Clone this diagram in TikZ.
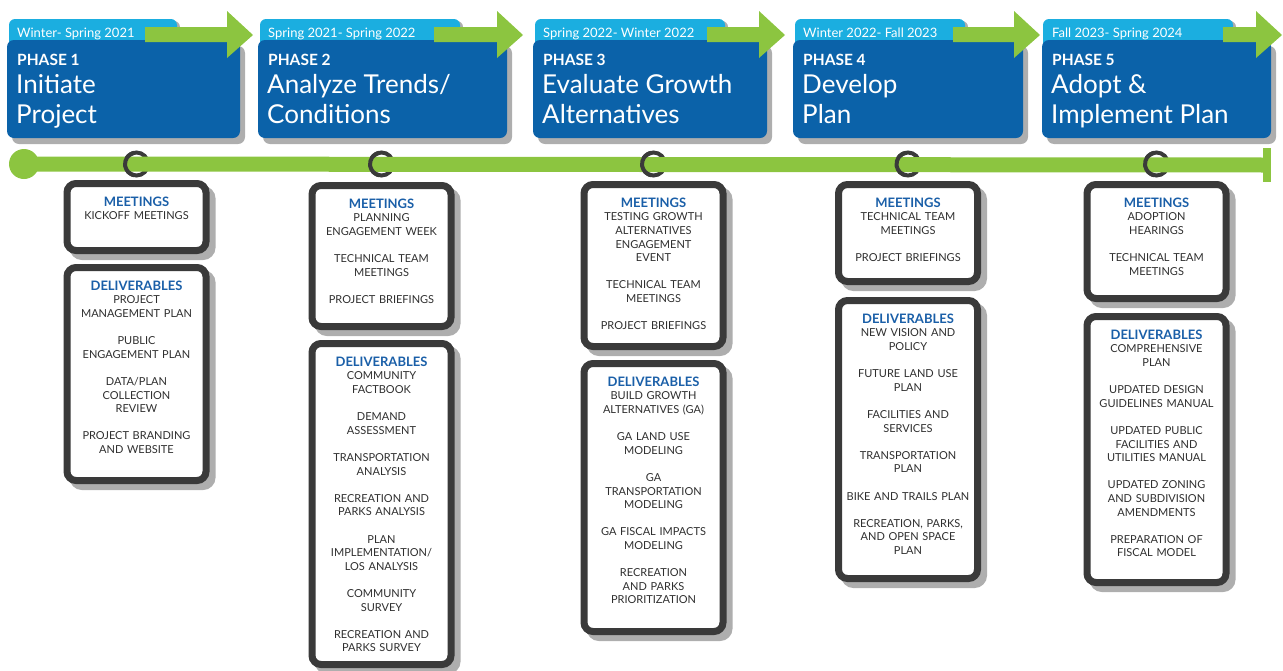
\documentclass[tikz,border=0pt]{standalone}
\usepackage{fontspec}
\setmainfont{Lato}
\usetikzlibrary{positioning}
\definecolor{phaseblue}{HTML}{0B62A9}
\definecolor{tabcyan}{HTML}{1BAEE0}
\definecolor{linegreen}{HTML}{8CC540}
\definecolor{cardgray}{HTML}{3A3A3A}
\definecolor{shadowgray}{HTML}{AEAEAE}
\definecolor{headblue}{HTML}{1A5FA8}
\definecolor{itemgray}{HTML}{2F2F2F}
\newcommand{\cardhead}[1]{{\color{headblue}\bfseries\fontsize{13}{13.6}\selectfont #1}}

\begin{document}
\begin{tikzpicture}[x=1pt,y=-1pt,
  phasebox/.style={fill=phaseblue,rounded corners=7pt,minimum height=98pt,inner sep=0pt,outer sep=0pt,anchor=north west,
    preaction={fill=shadowgray,transform canvas={xshift=5pt,yshift=-6pt}}},
  tabbox/.style={fill=tabcyan,rounded corners=6pt,minimum height=40pt,inner sep=0pt,outer sep=0pt,anchor=north west,
    preaction={fill=shadowgray,transform canvas={xshift=3pt,yshift=-2pt}}},
  datetext/.style={anchor=base west,inner sep=0pt,text=white,font=\fontsize{13}{15}\selectfont},
  phaselabel/.style={anchor=base west,inner sep=0pt,text=white,font=\bfseries\fontsize{15.5}{17}\selectfont},
  phasetitle/.style={anchor=north west,inner sep=0pt,align=left,text=white,font=\fontsize{26}{30}\selectfont},
  flow/.style={fill=linegreen},
  ring/.style={circle,draw=cardgray,line width=4pt,minimum size=23pt,inner sep=0pt,outer sep=0pt},
  ringline/.style={draw=cardgray,line width=4pt},
  card/.style={draw=cardgray,line width=7pt,fill=white,rounded corners=9pt,minimum width=139pt,inner sep=0pt,outer sep=0pt,
    preaction={draw=shadowgray,fill=shadowgray,line width=7pt,transform canvas={xshift=6pt,yshift=-6pt}}},
  cardtext/.style={anchor=north,align=center,text width=136pt,inner sep=0pt,text=itemgray,font=\fontsize{11}{13.6}\selectfont}
]
\useasboundingbox (0,0) rectangle (1283,670);

\node[tabbox,minimum width=168pt] (t1) at (9,19) {};
\node[tabbox,minimum width=200pt] (t2) at (260,19) {};
\node[tabbox,minimum width=190pt] (t3) at (535,19) {};
\node[tabbox,minimum width=170pt] (t4) at (795,19) {};
\node[tabbox,minimum width=190pt] (t5) at (1043,19) {};

\node[phasebox,minimum width=233pt] (p1) at (7,40) {};
\node[phasebox,minimum width=249pt] (p2) at (258,40) {};
\node[phasebox,minimum width=234pt] (p3) at (533,40) {};
\node[phasebox,minimum width=230pt] (p4) at (793,40) {};
\node[phasebox,minimum width=229pt] (p5) at (1042,40) {};

\fill[flow] (145,27) -- (227,27) -- (227,11) -- (253,35) -- (227,58) -- (227,42) -- (145,42) -- cycle;
\fill[flow] (434,27) -- (497,27) -- (497,11) -- (523,35) -- (497,58) -- (497,42) -- (434,42) -- cycle;
\fill[flow] (707,27) -- (759,27) -- (759,11) -- (785,35) -- (759,58) -- (759,42) -- (707,42) -- cycle;
\fill[flow] (953,27) -- (1014,27) -- (1014,11) -- (1040,35) -- (1014,58) -- (1014,42) -- (953,42) -- cycle;
\fill[flow] (1223,27) -- (1256,27) -- (1256,11) -- (1282,35) -- (1256,58) -- (1256,42) -- (1223,42) -- cycle;

\node[datetext] (d1) at (17,37.5) {Winter- Spring 2021};
\node[datetext] (d2) at (268,37.5) {Spring 2021- Spring 2022};
\node[datetext] (d3) at (543,37.5) {Spring 2022- Winter 2022};
\node[datetext] (d4) at (803,37.5) {Winter 2022- Fall 2023};
\node[datetext] (d5) at (1052,37.5) {Fall 2023- Spring 2024};

\node[phaselabel] (l1) at (17,65) {PHASE 1};
\node[phaselabel] (l2) at (268,65) {PHASE 2};
\node[phaselabel] (l3) at (543,65) {PHASE 3};
\node[phaselabel] (l4) at (803,65) {PHASE 4};
\node[phaselabel] (l5) at (1052,65) {PHASE 5};

\node[phasetitle] (n1) at (16,74.5) {Initiate\\Project};
\node[phasetitle] (n2) at (267,74.5) {Analyze Trends/\\Conditions};
\node[phasetitle] (n3) at (542,74.5) {Evaluate Growth\\Alternatives};
\node[phasetitle] (n4) at (802,74.5) {Develop\\Plan};
\node[phasetitle] (n5) at (1051,74.5) {Adopt \&\\Implement Plan};

\node[ring] (r1) at (136.5,164) {};
\node[ring] (r2) at (381.5,164) {};
\node[ring] (r3) at (653.5,164) {};
\node[ring] (r4) at (908,164) {};
\node[ring] (r5) at (1156.5,164) {};

\node[circle,fill=linegreen,minimum size=30pt,inner sep=0pt] (start) at (24,164) {};
\node[fill=linegreen,minimum width=8pt,minimum height=34pt,inner sep=0pt] (stop) at (1267,165) {};
\draw[linegreen,line width=15pt] (start.center) -- (stop.center);

\draw[ringline] (r1.100) arc[start angle=100,end angle=260,radius=11.5pt];
\draw[ringline] (r2.100) arc[start angle=100,end angle=260,radius=11.5pt];
\draw[ringline] (r3.100) arc[start angle=100,end angle=260,radius=11.5pt];
\draw[ringline] (r4.100) arc[start angle=100,end angle=260,radius=11.5pt];
\draw[ringline] (r5.100) arc[start angle=100,end angle=260,radius=11.5pt];

\node[card,minimum height=67pt] (m1) at (136.5,217) {};
\node[card,minimum height=213pt] (v1) at (136.5,374) {};
\node[card,minimum height=141pt] (m2) at (381.5,256) {};
\node[card,minimum height=321pt] (v2) at (381.5,504) {};
\node[card,minimum height=162pt] (m3) at (653.5,265.5) {};
\node[card,minimum height=268pt] (v3) at (653.5,497.5) {};
\node[card,minimum height=97pt] (m4) at (908,233) {};
\node[card,minimum height=278pt] (v4) at (908,439.5) {};
\node[card,minimum height=114pt] (m5) at (1156.5,241.5) {};
\node[card,minimum height=266pt] (v5) at (1156.5,449.5) {};

\node[cardtext] (m1t) at ([yshift=-13pt]m1.north) {\cardhead{MEETINGS}\\KICKOFF MEETINGS};
\node[cardtext] (v1t) at ([yshift=-13pt]v1.north) {\cardhead{DELIVERABLES}\\PROJECT\\MANAGEMENT PLAN\\[13.6pt]PUBLIC\\ENGAGEMENT PLAN\\[13.6pt]DATA/PLAN\\COLLECTION\\REVIEW\\[13.6pt]PROJECT BRANDING\\AND WEBSITE};
\node[cardtext] (m2t) at ([yshift=-13pt]m2.north) {\cardhead{MEETINGS}\\PLANNING\\ENGAGEMENT WEEK\\[13.6pt]TECHNICAL TEAM\\MEETINGS\\[13.6pt]PROJECT BRIEFINGS};
\node[cardtext] (v2t) at ([yshift=-13pt]v2.north) {\cardhead{DELIVERABLES}\\COMMUNITY\\FACTBOOK\\[13.6pt]DEMAND\\ASSESSMENT\\[13.6pt]TRANSPORTATION\\ANALYSIS\\[13.6pt]RECREATION AND\\PARKS ANALYSIS\\[13.6pt]PLAN\\IMPLEMENTATION/\\LOS ANALYSIS\\[13.6pt]COMMUNITY\\SURVEY\\[13.6pt]RECREATION AND\\PARKS SURVEY};
\node[cardtext] (m3t) at ([yshift=-13pt]m3.north) {\cardhead{MEETINGS}\\TESTING GROWTH\\ALTERNATIVES\\ENGAGEMENT\\EVENT\\[13.6pt]TECHNICAL TEAM\\MEETINGS\\[13.6pt]PROJECT BRIEFINGS};
\node[cardtext] (v3t) at ([yshift=-13pt]v3.north) {\cardhead{DELIVERABLES}\\BUILD GROWTH\\ALTERNATIVES (GA)\\[13.6pt]GA LAND USE\\MODELING\\[13.6pt]GA\\TRANSPORTATION\\MODELING\\[13.6pt]GA FISCAL IMPACTS\\MODELING\\[13.6pt]RECREATION\\AND PARKS\\PRIORITIZATION};
\node[cardtext] (m4t) at ([yshift=-13pt]m4.north) {\cardhead{MEETINGS}\\TECHNICAL TEAM\\MEETINGS\\[13.6pt]PROJECT BRIEFINGS};
\node[cardtext] (v4t) at ([yshift=-13pt]v4.north) {\cardhead{DELIVERABLES}\\NEW VISION AND\\POLICY\\[13.6pt]FUTURE LAND USE\\PLAN\\[13.6pt]FACILITIES AND\\SERVICES\\[13.6pt]TRANSPORTATION\\PLAN\\[13.6pt]BIKE AND TRAILS PLAN\\[13.6pt]RECREATION, PARKS,\\AND OPEN SPACE\\PLAN};
\node[cardtext] (m5t) at ([yshift=-13pt]m5.north) {\cardhead{MEETINGS}\\ADOPTION\\HEARINGS\\[13.6pt]TECHNICAL TEAM\\MEETINGS};
\node[cardtext] (v5t) at ([yshift=-13pt]v5.north) {\cardhead{DELIVERABLES}\\COMPREHENSIVE\\PLAN\\[13.6pt]UPDATED DESIGN\\GUIDELINES MANUAL\\[13.6pt]UPDATED PUBLIC\\FACILITIES AND\\UTILITIES MANUAL\\[13.6pt]UPDATED ZONING\\AND SUBDIVISION\\AMENDMENTS\\[13.6pt]PREPARATION OF\\FISCAL MODEL};
\end{tikzpicture}
\end{document}
